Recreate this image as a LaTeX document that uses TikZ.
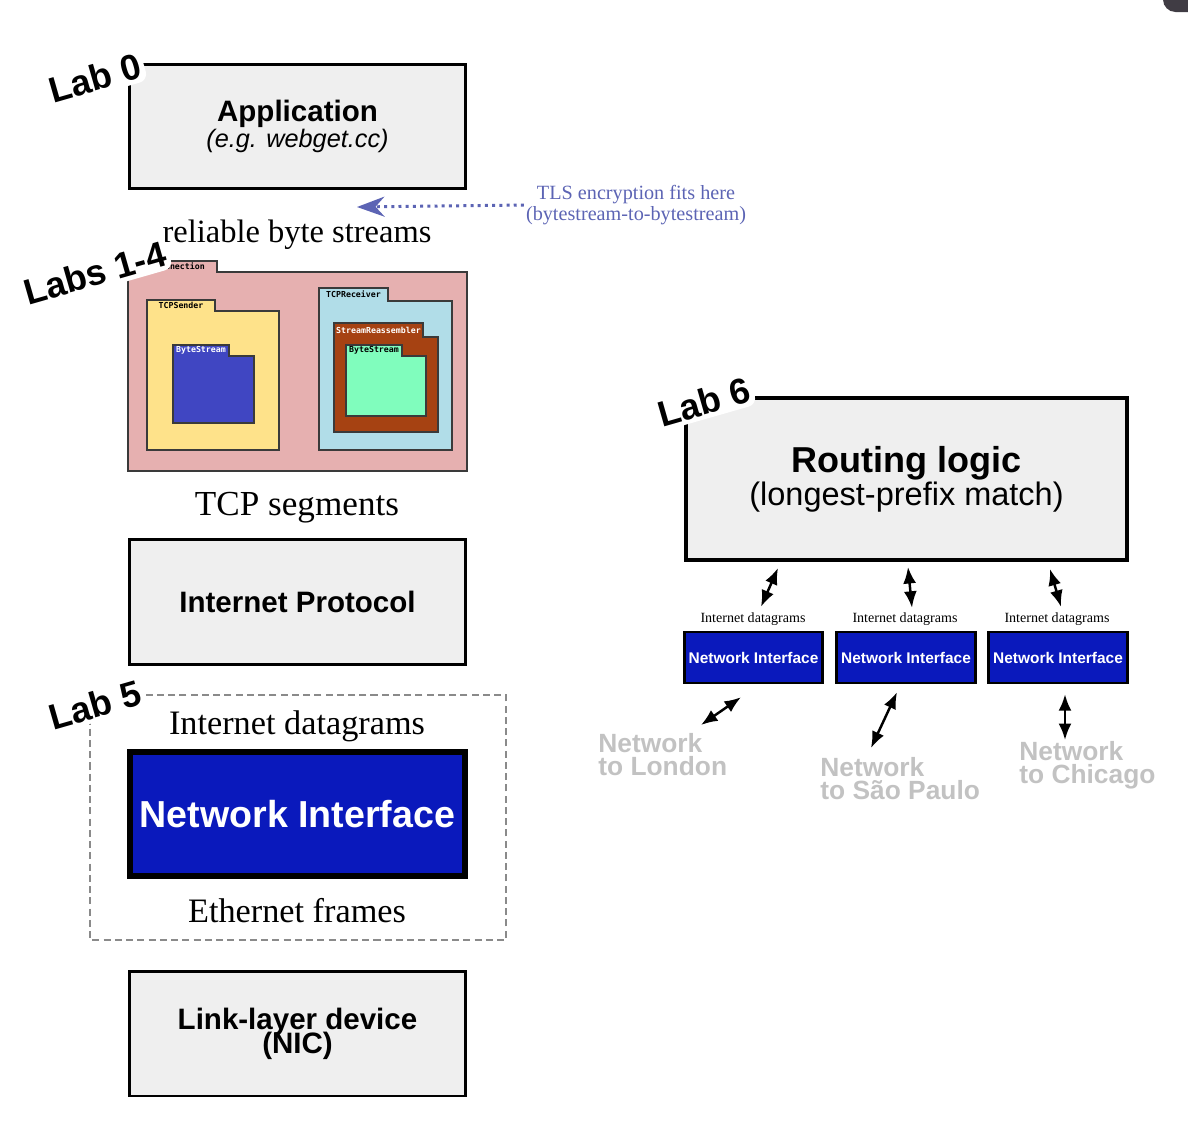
\documentclass[tikz,border=0pt]{standalone}
\usepackage{fontspec}
\setmainfont{Liberation Serif}
\setsansfont{Liberation Sans}
\newfontfamily\pkgmono{DejaVu Sans Mono}
\usetikzlibrary{calc,arrows.meta}
\definecolor{boxgray}{HTML}{EFEFEF}
\definecolor{nicblue}{HTML}{0A19BC}
\definecolor{tlsblue}{HTML}{5C64B4}
\definecolor{netgray}{HTML}{C2C2C2}
\definecolor{dashgray}{HTML}{8A8A8A}
\definecolor{connpink}{HTML}{E6B0B0}
\definecolor{senderyellow}{HTML}{FEE28A}
\definecolor{streamblue}{HTML}{4046C2}
\definecolor{recvcyan}{HTML}{B1DDE8}
\definecolor{reasmbrown}{HTML}{A64212}
\definecolor{streamgreen}{HTML}{80FDBD}
\definecolor{folderline}{HTML}{3A3A3A}
\definecolor{cornergray}{HTML}{403C44}
\tikzset{
  layerbox/.style={draw=black, line width=1.7pt, fill=boxgray, minimum width=6.74cm,
    minimum height=2.5cm, align=center, inner sep=0pt},
  nibox/.style={draw=black, fill=nicblue, text=white, font=\sffamily\bfseries, inner sep=0pt},
  labtag/.style={fill=white, inner sep=2pt, rounded corners=5pt, rotate=16,
    font=\sffamily\bfseries\fontsize{20.5}{20}\selectfont},
  flowtext/.style={font=\fontsize{19.5}{19.5}\selectfont, anchor=base, inner sep=0pt},
  dgsmall/.style={font=\fontsize{8}{8}\selectfont, anchor=base, inner sep=0pt},
  netlabel/.style={font=\sffamily\bfseries\fontsize{15}{13}\selectfont, text=netgray,
    align=left, anchor=north west, inner sep=0pt},
  pkgtab/.style={draw=folderline, line width=0.7pt},
  pkglabel/.style={font=\pkgmono\bfseries\fontsize{4.7}{5}\selectfont, inner sep=0pt},
  dblarrow/.style={{Latex[length=3.3mm,width=2.6mm]}-{Latex[length=3.3mm,width=2.6mm]}, line width=1.4pt},
  tlsarrow/.style={tlsblue, line width=1.7pt, dash pattern=on 1.7pt off 2.4pt,
    -{Stealth[length=5.5mm,width=4mm,inset=1.8mm,sep=0pt]}}
}
% folder: name, left, tab top, tab right, body top, right, bottom, fill, label
\newcommand{\pkgfolder}[9]{%
  \filldraw[pkgtab, fill=#8] (#2,#7) -- (#2,#3) -- (#4,#3) -- (#4,#5) -- (#6,#5) -- (#6,#7) -- cycle;
  \node[pkglabel] (#1) at ({(#2+#4)/2},{(#3+#5)/2}) {#9};
}
\begin{document}
\begin{tikzpicture}[x=0.02cm, y=-0.02cm]
  \useasboundingbox (0,0) rectangle (1188,1126);
  \fill[cornergray, rounded corners=0.25cm] (1163,-20) rectangle (1210,12);

  % ---------- Left stack: the layers ----------
  \node[layerbox, font=\sffamily] (app) at (297.5,126.5)
    {{\bfseries\fontsize{16.8}{13.6}\selectfont Application}\\
     {\itshape\fontsize{14.4}{14}\selectfont (e.g. webget.cc)}};

  \node[flowtext, font=\fontsize{18.5}{18.5}\selectfont] (bytes) at (297,242) {reliable byte streams};

  % TLS note
  \node[font=\fontsize{11.5}{9.3}\selectfont, text=tlsblue, align=center, inner sep=1pt]
    (tls) at (636,205) {TLS encryption fits here\\(bytestream-to-bytestream)};
  \coordinate (tlsend) at (357,207);
  \draw[tlsarrow] (tls.west) -- (tlsend);

  % TCP connection folders
  \pkgfolder{conn}{128}{261}{217}{272}{467}{471}{connpink}{TCPConnection}
  \pkgfolder{sender}{147}{300}{215}{311}{279}{450}{senderyellow}{TCPSender}
  \pkgfolder{sendstream}{173}{345}{229}{356}{254}{423}{streamblue}{\textcolor{white}{ByteStream}}
  \pkgfolder{receiver}{319}{288}{388}{301}{452}{450}{recvcyan}{TCPReceiver}
  \pkgfolder{reasm}{334}{323}{423}{337}{438}{432}{reasmbrown}{\textcolor{white}{StreamReassembler}}
  \pkgfolder{recvstream}{346}{345}{402}{356}{426}{416}{streamgreen}{ByteStream}

  \node[flowtext, font=\fontsize{20}{20}\selectfont] (segs) at (297,515) {TCP segments};

  \node[layerbox, font=\sffamily\bfseries\fontsize{16.8}{16}\selectfont] (ip) at (297.5,602)
    {Internet Protocol};

  % Lab 5 region
  \draw[dashgray, line width=1.4pt, dash pattern=on 4pt off 2.4pt] (90,695) rectangle (506,940);
  \node[flowtext] (dgrams) at (297,734) {Internet datagrams};
  \node[nibox, line width=3.4pt, minimum width=6.7cm, minimum height=2.48cm,
    font=\sffamily\bfseries\fontsize{21.4}{21.4}\selectfont] (nic) at (297.5,814) {Network Interface};
  \node[flowtext] (frames) at (297,922) {Ethernet frames};

  \node[layerbox, font=\sffamily\bfseries\fontsize{16.8}{13}\selectfont]
    (link) at (297.5,1033.5) {Link-layer device\\[-3pt](NIC)};

  % ---------- Lab tags ----------
  \node[labtag] (lab0) at (95,78) {Lab 0};
  \node[labtag] (lab14) at (95,273) {Labs 1-4};
  \node[labtag] (lab5) at (95,705) {Lab 5};

  % ---------- Right: router ----------
  \node[layerbox, line width=2.3pt, minimum width=8.82cm, minimum height=3.24cm, font=\sffamily]
    (route) at (906.5,479)
    {{\bfseries\fontsize{20.5}{17}\selectfont Routing logic}\\
     {\fontsize{18.5}{17}\selectfont (longest-prefix match)}};
  \node[labtag] (lab6) at (704,402) {Lab 6};

  \node[dgsmall] (dg1) at (753,622) {Internet datagrams};
  \node[dgsmall] (dg2) at (905,622) {Internet datagrams};
  \node[dgsmall] (dg3) at (1057,622) {Internet datagrams};

  \node[nibox, line width=1.4pt, minimum width=2.76cm, minimum height=1.02cm,
    font=\sffamily\bfseries\fontsize{8.8}{8.8}\selectfont] (ni1) at (753.5,657.5) {Network Interface};
  \node[nibox, line width=1.4pt, minimum width=2.78cm, minimum height=1.02cm,
    font=\sffamily\bfseries\fontsize{8.8}{8.8}\selectfont] (ni2) at (906,657.5) {Network Interface};
  \node[nibox, line width=1.4pt, minimum width=2.78cm, minimum height=1.02cm,
    font=\sffamily\bfseries\fontsize{8.8}{8.8}\selectfont] (ni3) at (1058,657.5) {Network Interface};

  \draw[dblarrow] ($(route.south)+(-128.5,6)$) -- ($(ni1.north)+(7.5,-24)$);
  \draw[dblarrow] ($(route.south)+(1.5,5)$) -- ($(ni2.north)+(6,-23)$);
  \draw[dblarrow] ($(route.south)+(143.5,7)$) -- ($(ni3.north)+(3,-24)$);

  % outside networks
  \node[netlabel] (london) at (598,733) {Network\\to London};
  \node[netlabel] (saopaulo) at (820,757) {Network\\to São Paulo};
  \node[netlabel] (chicago) at (1019,741) {Network\\to Chicago};
  \coordinate (londonend) at (701,725);
  \coordinate (spend) at (871,748);
  \coordinate (chiend) at (1065,740);
  \draw[dblarrow] ($(ni1.south)+(-12.5,13)$) -- (londonend);
  \draw[dblarrow] ($(ni2.south)+(-9,8)$) -- (spend);
  \draw[dblarrow] ($(ni3.south)+(7,10)$) -- (chiend);
\end{tikzpicture}
\end{document}
